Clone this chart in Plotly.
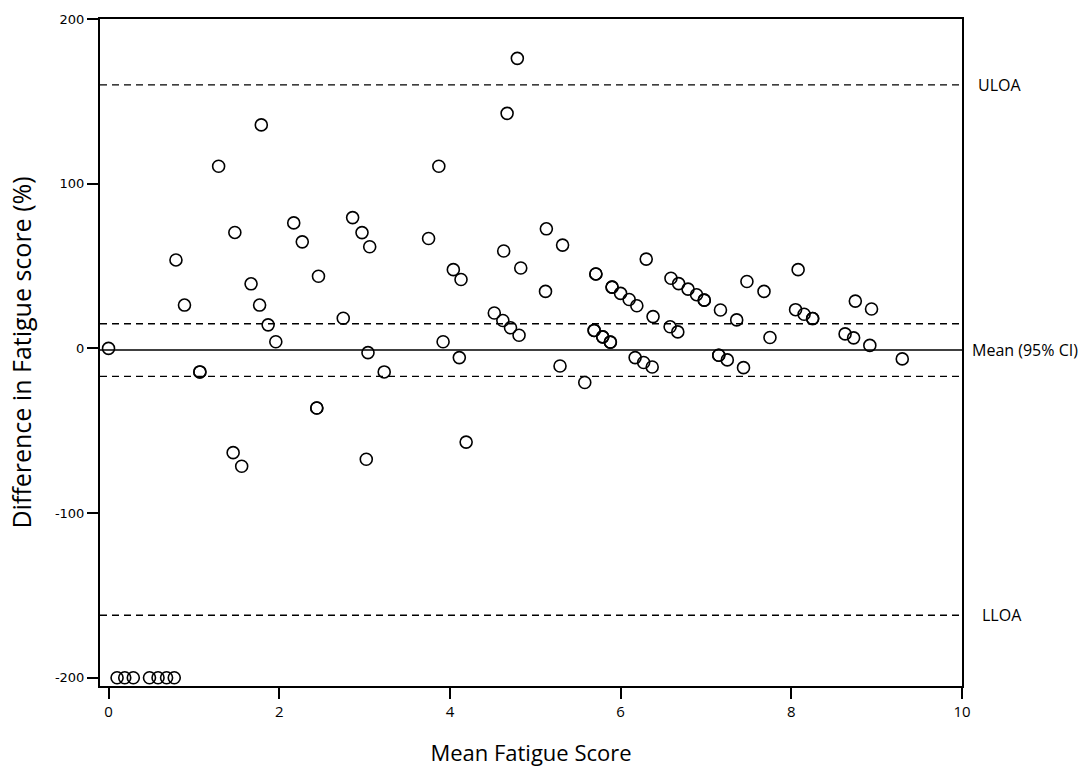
import plotly.graph_objects as go

# Bland-Altman style data: mean fatigue score vs difference (%)
mean_score = [0.10, 0.19, 0.29, 0.48, 0.58, 0.68, 0.77,
              0.00, 0.79, 0.89, 1.07, 1.07, 1.29, 1.46, 1.48, 1.56, 1.67, 1.77, 1.79, 1.87, 1.96,
              2.17, 2.27, 2.44, 2.44, 2.46, 2.75, 2.86, 2.97, 3.02, 3.04, 3.06, 3.23,
              3.75, 3.87, 3.92, 4.04, 4.11, 4.13, 4.19, 4.52, 4.62, 4.63, 4.67, 4.71, 4.79, 4.81, 4.83,
              5.12, 5.13, 5.29, 5.32, 5.58, 5.69, 5.69, 5.71, 5.71, 5.79, 5.79, 5.88, 5.88, 5.90, 5.90,
              6.00, 6.10, 6.17, 6.19, 6.27, 6.30, 6.37, 6.38, 6.58, 6.59, 6.67, 6.68, 6.79, 6.89, 6.98, 6.98,
              7.15, 7.15, 7.17, 7.25, 7.36, 7.44, 7.48, 7.68, 7.75,
              8.05, 8.08, 8.15, 8.25, 8.25, 8.63, 8.73, 8.75, 8.92, 8.94, 9.30]
diff_pct = [-200, -200, -200, -200, -200, -200, -200,
            0.0, 53.7, 26.3, -14.3, -14.3, 110.6, -63.3, 70.4, -71.6, 39.2, 26.3, 135.7, 14.3, 4.0,
            76.2, 64.7, -36.2, -36.2, 43.8, 18.3, 79.4, 70.3, -67.3, -2.6, 61.7, -14.3,
            66.7, 110.6, 4.0, 47.8, -5.6, 41.8, -56.9, 21.5, 16.9, 59.1, 142.7, 12.5, 176.1, 8.0, 48.8,
            34.6, 72.6, -10.7, 62.7, -20.7, 10.9, 10.9, 45.2, 45.2, 7.0, 7.0, 3.8, 3.8, 37.2, 37.2,
            33.4, 29.7, -5.6, 25.9, -8.6, 54.2, -11.3, 19.3, 13.1, 42.6, 10.0, 39.3, 36.0, 32.6, 29.3, 29.3,
            -4.2, -4.2, 23.3, -7.0, 17.3, -11.7, 40.6, 34.6, 6.6,
            23.5, 47.8, 20.7, 18.1, 18.1, 8.8, 6.4, 28.7, 1.8, 23.9, -6.4]

# Reference lines: ULOA, upper CI, mean, lower CI, LLOA
ref_values = [160, 15, -1, -17, -162]
ref_dash = ["dash", "dash", "solid", "dash", "dash"]
label_values = [160, -1, -162]
label_texts = ["ULOA", "Mean (95% CI)", "LLOA"]
label_shift = [14, 8, 18]

x_ticks = [0, 2, 4, 6, 8, 10]
y_ticks = [-200, -100, 0, 100, 200]
y_tick_text = ["-200", "-100", "0", "100", "200"]

fig = go.Figure()
fig.add_trace(go.Scatter(
    x=mean_score, y=diff_pct, mode="markers",
    marker=dict(symbol="circle-open", size=12, color="black", line=dict(width=1.6)),
    showlegend=False, hoverinfo="x+y"))

for v, d in zip(ref_values, ref_dash):
    fig.add_shape(type="line", xref="paper", x0=0, x1=1, yref="y", y0=v, y1=v,
                  line=dict(color="black", width=1.4, dash="7px,5px" if d == "dash" else "solid"))

for v, t, s in zip(label_values, label_texts, label_shift):
    fig.add_annotation(xref="paper", x=1, yref="y", y=v, text=t, showarrow=False,
                       xanchor="left", xshift=s, font=dict(family="Open Sans", size=16, color="black"))

fig.update_layout(
    width=1090, height=774,
    margin=dict(l=100, r=128, t=14, b=82),
    paper_bgcolor="white", plot_bgcolor="white",
    font=dict(family="DejaVu Sans", color="black"),
)
fig.update_xaxes(
    range=[-0.1, 10], tickvals=x_ticks, ticks="outside", ticklen=11, tickwidth=2, tickcolor="black",
    showline=True, linecolor="black", linewidth=2, mirror=True, showgrid=False, zeroline=False,
    tickfont=dict(family="Open Sans", size=15),
    title=dict(text="Mean Fatigue Score", font=dict(family="Open Sans", size=22), standoff=26),
)
fig.update_yaxes(
    range=[-205, 200], tickvals=y_ticks, ticktext=y_tick_text, ticks="outside", ticklen=11,
    tickwidth=2, tickcolor="black",
    showline=True, linecolor="black", linewidth=2, mirror=True, showgrid=False, zeroline=False,
    tickfont=dict(family="DejaVu Sans", size=13),
    title=dict(text="Difference in Fatigue score (%)", font=dict(family="Open Sans", size=25), standoff=16),
)

fig.write_html("out.html", config={"displayModeBar": False},
               post_script="document.body.style.margin='0';")
